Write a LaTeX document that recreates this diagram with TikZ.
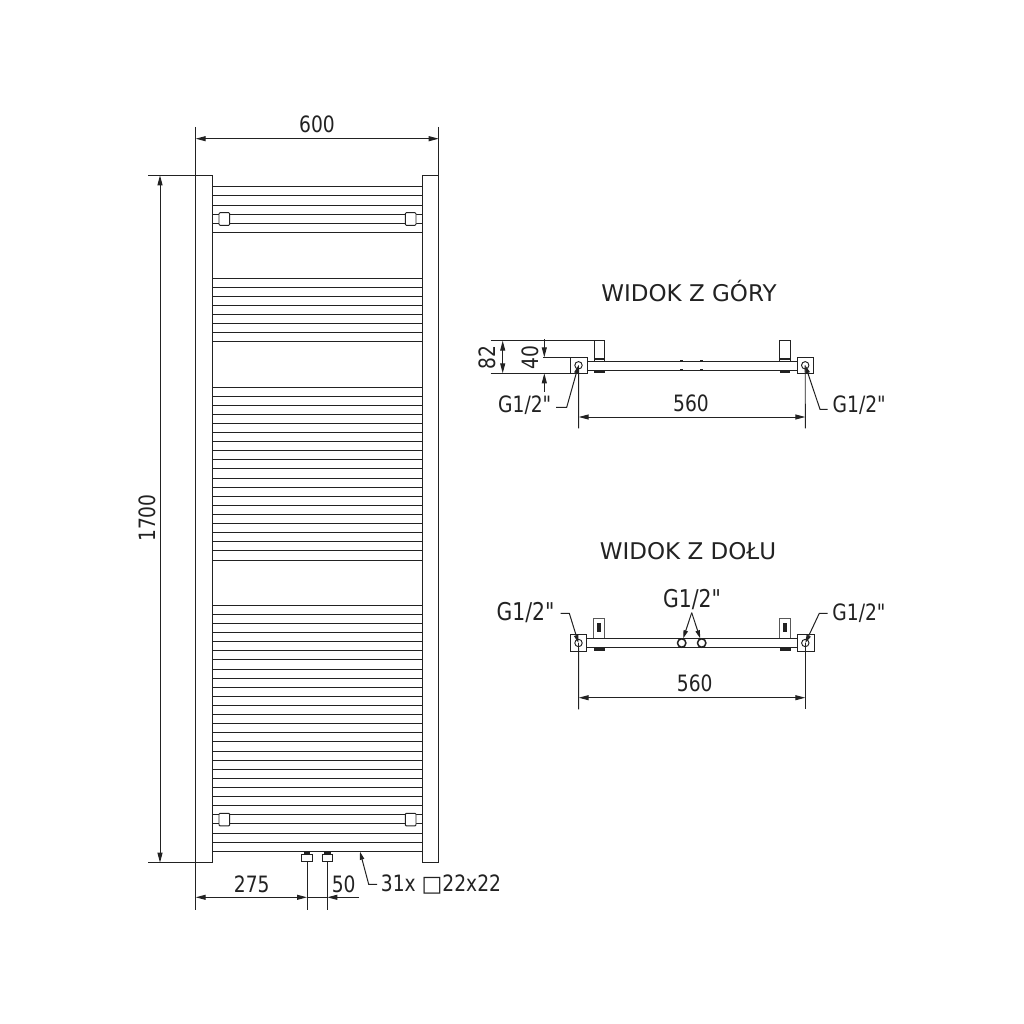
\documentclass[tikz,border=0pt]{standalone}
\usepackage{fontspec}
\newfontfamily\labfont[FakeStretch=0.83]{DejaVu Sans}
\newfontfamily\symfont{DejaVu Sans}
\usetikzlibrary{arrows.meta}
\definecolor{ink}{HTML}{222222}
\tikzset{
 ln/.style={draw=ink,line width=0.95pt},
 bar/.style={draw=ink,line width=1pt},
 dimarrow/.style={draw=ink,line width=0.95pt,{Triangle[length=10pt,width=5pt]}-{Triangle[length=10pt,width=5pt]}},
 endarrow/.style={draw=ink,line width=0.95pt,-{Triangle[length=10pt,width=5pt]}},
 leadarrow/.style={draw=ink,line width=1pt,-{Triangle[length=8pt,width=4.4pt]}},
 lab/.style={text=ink,font=\labfont\fontsize{22.5}{23}\selectfont,inner sep=0pt},
 labbig/.style={text=ink,font=\labfont\fontsize{24.5}{25}\selectfont,inner sep=0pt},
 title/.style={text=ink,font=\symfont\fontsize{23}{24}\selectfont,inner sep=0pt},
 clip1/.style={draw=ink,line width=0.95pt,fill=white,rounded corners=1pt},
}
\begin{document}
\begin{tikzpicture}[x=1pt,y=-1pt]
\useasboundingbox (0,0) rectangle (1024,1024);
\fill[white] (0,0) rectangle (1024,1024);
% ---- front view
\foreach \y in {187,196,205.3,214.3,223.7,232.3,278.3,287,296.3,305.3,314.3,323.3,332.7,341.7}
  \draw[bar] (212.3,\y) -- (422.3,\y);
\foreach \i in {0,...,19}
  \draw[bar] (212.3,{387+\i*9.105}) -- (422.3,{387+\i*9.105});
\foreach \i in {0,...,27}
  \draw[bar] (212.3,{605.3+\i*9.11}) -- (422.3,{605.3+\i*9.11});
\draw[ln,line width=1.1pt] (195.7,175.3) rectangle (212.3,862.7);
\draw[ln,line width=1.1pt] (422.3,175.3) rectangle (438.7,862.7);
\foreach \x/\y in {219/212.7,405.3/212.7,219/813.3,405.3/813.3}
  \draw[clip1] (\x,\y) rectangle ++(10.7,12.6);
% valves
\foreach \x in {301.7,322}{
  \fill[ink] (\x+2.3,851.8) rectangle ++(6.3,2.8);
  \draw[ln,fill=white] (\x,854.4) rectangle ++(10.6,7.4);
}
% dimension 600
\coordinate (a1) at (195.7,127); \coordinate (a2) at (195.7,175.3);
\coordinate (b1) at (438.7,127); \coordinate (b2) at (438.7,175.3);
\coordinate (c1) at (195.7,138.7); \coordinate (c2) at (438.7,138.7);
\draw[ln] (a1)--(a2); \draw[ln] (b1)--(b2);
\draw[dimarrow] (c1)--(c2);
\node[lab] (t600) at (317,124.5) {600};
% dimension 1700
\coordinate (d1) at (148,175.3); \coordinate (d2) at (148,862.7);
\coordinate (d3) at (195.7,175.3); \coordinate (d4) at (195.7,862.7);
\coordinate (e1) at (160,175.3); \coordinate (e2) at (160,862.7);
\draw[ln] (d1)--(d3); \draw[ln] (d2)--(d4);
\draw[dimarrow] (e1)--(e2);
\node[lab,rotate=90] (t1700) at (147,518) {1700};
% bottom dimensions
\coordinate (f0) at (195.7,862.7); \coordinate (f1) at (195.7,910);
\coordinate (g0) at (307,861.8); \coordinate (g1) at (307,910);
\coordinate (h0) at (327.3,861.8); \coordinate (h1) at (327.3,910);
\coordinate (k1) at (195.7,897.3); \coordinate (k2) at (307,897.3);
\coordinate (k3) at (327.3,897.3); \coordinate (k4) at (359,897.3);
\draw[ln] (f0)--(f1); \draw[ln] (g0)--(g1); \draw[ln] (h0)--(h1);
\draw[dimarrow] (k1)--(k2);
\draw[ln] (k2)--(k3);
\draw[endarrow] (k4)--(k3);
\node[lab] (t275) at (251.7,884) {275};
\node[lab] (t50) at (343.7,884) {50};
\coordinate (m1) at (377,884.3); \coordinate (m2) at (368.7,884.3); \coordinate (m3) at (360,851.7);
\draw[leadarrow] (m1)--(m2)--(m3);
\node[lab,anchor=west] (t31) at (380.7,884) {31x {\symfont\fontsize{22}{22}\selectfont □}22x22};
% ---- top view
\node[title] (ttop) at (689,290.5) {WIDOK Z GÓRY};
\draw[ln] (587,361) -- (797.3,361);
\draw[ln] (587,370) -- (797.3,370);
\foreach \x in {681.7,701.7}{
  \draw[ln,line width=1.4pt] (\x-1.5,361) -- (\x+1.5,361);
  \draw[ln,line width=1.4pt] (\x-1.5,370) -- (\x+1.5,370);
}
\foreach \x in {594,779.6}{
  \draw[ln] (\x,361) |- (\x+10.8,340.7) -- (\x+10.8,361);
  \draw[ln,line width=1.6pt] (\x,359) -- (\x+10.8,359);
  \fill[ink] (\x,370) rectangle ++(10.8,2.8);
}
\draw[ln] (570.7,357.3) rectangle (587,373.3);
\draw[ln] (797.3,357.3) rectangle (813.7,373.3);
\node[draw=ink,line width=0.95pt,circle,minimum size=7.4pt,inner sep=0pt] (pa) at (578.5,365.3) {};
\node[draw=ink,line width=0.95pt,circle,minimum size=7.4pt,inner sep=0pt] (pb) at (805.2,365.3) {};
\coordinate (n1) at (490.7,340.7); \coordinate (n2) at (594,340.7);
\coordinate (n3) at (490.7,373.3); \coordinate (n4) at (570.7,373.3);
\coordinate (n5) at (543,357.3); \coordinate (n6) at (570.7,357.3);
\draw[ln] (n1)--(n2); \draw[ln] (n3)--(n4); \draw[ln] (n5)--(n6);
\coordinate (p1) at (502.7,340.7); \coordinate (p2) at (502.7,373.3);
\draw[dimarrow] (p1)--(p2);
\coordinate (q1) at (544.3,339); \coordinate (q2) at (544.3,357.3);
\coordinate (q3) at (544.3,391.7); \coordinate (q4) at (544.3,373.3);
\draw[endarrow] (q1)--(q2); \draw[endarrow] (q3)--(q4);
\node[lab,rotate=90] (t82) at (487.7,357.7) {82};
\node[lab,rotate=90] (t40) at (530,357.3) {40};
\coordinate (r1) at (578.7,428.3); \coordinate (r2) at (805.3,428.3);
\coordinate (s1) at (578.7,417); \coordinate (s2) at (805.3,417);
\draw[ln] (pa.center)--(r1); \draw[ln] (pb.center)--(r2);
\draw[dimarrow] (s1)--(s2);
\node[lab] (t560a) at (691,403.5) {560};
\node[lab] (tga) at (524.7,405.5) {G1/2"};
\node[lab] (tgb) at (859.2,405.5) {G1/2"};
\coordinate (u1) at (556,407.3); \coordinate (u2) at (566.7,407.3);
\draw[leadarrow] (u1)--(u2)--(pa.center);
\coordinate (v1) at (827.7,409.3); \coordinate (v2) at (820,409.3);
\draw[leadarrow] (v1)--(v2)--(pb.center);
% ---- bottom view
\node[title] (tbot) at (688,551) {WIDOK Z DOŁU};
\draw[ln] (586.7,638.3) -- (797.3,638.3);
\draw[ln] (586.7,647.3) -- (797.3,647.3);
\foreach \x in {593.5,779.5}{
  \draw[ln,draw=ink!75] (\x,638.3) |- (\x+11,618.3) -- (\x+11,638.3);
  \fill[ink] (\x+3.4,623.3) rectangle ++(4,8.4);
  \fill[ink] (\x,647.3) rectangle ++(11,3.2);
}
\draw[ln] (570,634.7) rectangle (586.7,651.3);
\draw[ln] (797.3,634.7) rectangle (814,651.3);
\node[draw=ink,line width=0.95pt,circle,minimum size=7.4pt,inner sep=0pt] (pc) at (578.5,643) {};
\node[draw=ink,line width=0.95pt,circle,minimum size=7.4pt,inner sep=0pt] (pd) at (805.3,643) {};
\node[draw=ink,line width=1.5pt,fill=white,circle,minimum size=8.4pt,inner sep=0pt] (pe) at (681.7,643) {};
\node[draw=ink,line width=1.5pt,fill=white,circle,minimum size=8.4pt,inner sep=0pt] (pf) at (701.7,643) {};
\coordinate (w1) at (578.7,709.3); \coordinate (w2) at (805.3,709.3);
\coordinate (x1) at (578.7,697.7); \coordinate (x2) at (805.3,697.7);
\draw[ln] (pc.center)--(w1); \draw[ln] (pd.center)--(w2);
\draw[dimarrow] (x1)--(x2);
\node[lab] (t560b) at (694.7,683) {560};
\node[labbig] (tgc) at (525.5,613) {G1/2"};
\node[lab] (tgd) at (859,613) {G1/2"};
\node[labbig] (tge) at (692,600) {G1/2"};
\coordinate (y1) at (560.7,613.3); \coordinate (y2) at (569.3,613.3);
\draw[leadarrow] (y1)--(y2)--(pc.center);
\coordinate (z1) at (827.7,613.3); \coordinate (z2) at (819.3,613.3);
\draw[leadarrow] (z1)--(z2)--(pd.center);
\coordinate (o1) at (691.7,612.7);
\draw[leadarrow] (o1)--(pe);
\draw[leadarrow] (o1)--(pf);
\end{tikzpicture}
\end{document}
